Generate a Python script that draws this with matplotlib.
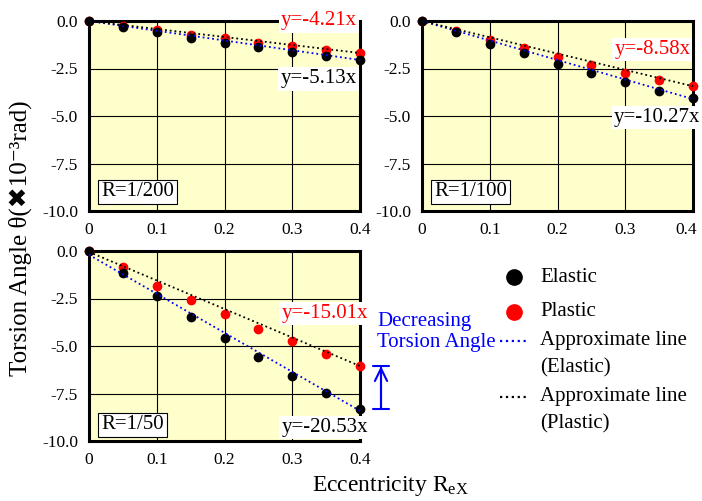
"""Torsion angle vs eccentricity for three drift ratios."""

import matplotlib
matplotlib.use("Agg")
import matplotlib.pyplot as plt
import matplotlib.transforms as mtransforms
from matplotlib.lines import Line2D

plt.rcParams["font.family"] = ["Liberation Serif", "DejaVu Sans"]
plt.rcParams["mathtext.fontset"] = "custom"
plt.rcParams["mathtext.rm"] = "Liberation Serif"
plt.rcParams["mathtext.it"] = "Liberation Serif"

# eccentricity R_eX
ecc = [0, 0.05, 0.1, 0.15, 0.2, 0.25, 0.3, 0.35, 0.4]

# torsion angle (x10^-3 rad)
elastic_200 = [0, -0.30, -0.60, -0.88, -1.14, -1.39, -1.65, -1.84, -2.07]
plastic_200 = [0, -0.26, -0.47, -0.72, -0.91, -1.14, -1.33, -1.53, -1.67]
elastic_100 = [0, -0.56, -1.19, -1.71, -2.25, -2.76, -3.23, -3.68, -4.07]
plastic_100 = [0, -0.52, -0.98, -1.41, -1.87, -2.30, -2.72, -3.10, -3.44]
elastic_50 = [0, -1.18, -2.36, -3.48, -4.57, -5.59, -6.57, -7.45, -8.30]
plastic_50 = [0, -0.83, -1.83, -2.58, -3.34, -4.13, -4.75, -5.41, -6.06]

slopes_elastic = [-5.13, -10.27, -20.53]
slopes_plastic = [-4.21, -8.58, -15.01]
intercepts_elastic = [0.0, 0.0, -0.2]
intercepts_plastic = [0.0, 0.0, -0.05]
panel_labels = ["R=1/200", "R=1/100", "R=1/50"]

x_ticks = [0, 0.1, 0.2, 0.3, 0.4]
x_tick_labels = ["0", "0.1", "0.2", "0.3", "0.4"]
y_ticks = [0, -2.5, -5, -7.5, -10]
y_tick_labels = ["0.0", "-2.5", "-5.0", "-7.5", "-10.0"]

W, H = 702, 501


def fx(px):
    return px / W


def fy(py):
    return 1 - py / H


BG = "#FFFFCC"
BLUE = "#0000FF"
RED = "#FF0000"

fig = plt.figure(figsize=(W / 100, H / 100), dpi=100)

# axes boxes in pixels: left, top, right, bottom
boxes = [(89, 21, 360, 211), (422, 21, 693, 211), (89, 251, 360, 441)]
elastic_sets = [elastic_200, elastic_100, elastic_50]
plastic_sets = [plastic_200, plastic_100, plastic_50]
eq_plastic_pos = [(0.339, 0.0), (0.340, -1.5), (0.348, -3.3)]
eq_elastic_pos = [(0.339, -3.05), (0.347, -5.1), (0.348, -9.3)]
label_y = [0.10, 0.10, 0.085]

axes = []
for i, (l, t, r, b) in enumerate(boxes):
    ax = fig.add_axes([fx(l), fy(b), (r - l) / W, (b - t) / H])
    axes.append(ax)
    ax.set_facecolor(BG)
    ax.set_xlim(0, 0.4)
    ax.set_ylim(-10, 0)
    ax.set_xticks(x_ticks)
    ax.set_xticklabels(x_tick_labels)
    ax.set_yticks(y_ticks)
    ax.set_yticklabels(y_tick_labels)
    ax.tick_params(length=0, labelsize=12.5, pad=8)
    ax.grid(True, color="black", lw=0.8)
    ax.set_axisbelow(True)
    for s in ax.spines.values():
        s.set_linewidth(2.2)
        s.set_zorder(3)

    ax.plot(ecc, plastic_sets[i], "o", color=RED, ms=6, clip_on=False, zorder=4)
    ax.plot(ecc, elastic_sets[i], "o", color="black", ms=6, clip_on=False, zorder=4)

    xs = [0, 0.4]
    ax.plot(xs, [slopes_elastic[i] * x + intercepts_elastic[i] for x in xs],
            ":", color=BLUE, lw=1.3, zorder=5, clip_on=False)
    ax.plot(xs, [slopes_plastic[i] * x + intercepts_plastic[i] for x in xs],
            ":", color="black", lw=1.3, zorder=5, clip_on=False)

    box = dict(facecolor="white", edgecolor="none", pad=1.5)
    ax.text(*eq_plastic_pos[i], f"y={slopes_plastic[i]:.2f}x", color=RED, fontsize=15,
            ha="center", va="center", bbox=box, zorder=6, clip_on=False)
    ax.text(*eq_elastic_pos[i], f"y={slopes_elastic[i]:.2f}x", color="black", fontsize=15,
            ha="center", va="center", bbox=box, zorder=6, clip_on=False)

    ax.text(0.045, label_y[i], panel_labels[i], transform=ax.transAxes, fontsize=15,
            ha="left", va="center", zorder=6,
            bbox=dict(facecolor="white", edgecolor="black", linewidth=0.8, pad=2))

# nudge the last x tick label of the right panel so it stays inside the figure
last = axes[1].get_xticklabels()[-1]
last.set_transform(last.get_transform()
                   + mtransforms.ScaledTranslation(-5 / 72, 0, fig.dpi_scale_trans))

ax3 = axes[2]
# decreasing torsion angle marker, between the elastic and plastic end points
arrow_x = 0.431
ax3.annotate("", xy=(arrow_x, plastic_50[-1]), xytext=(arrow_x, elastic_50[-1]),
             annotation_clip=False,
             arrowprops=dict(arrowstyle="|-|,widthA=0.55,widthB=0.55", color=BLUE,
                             lw=1.5, shrinkA=0, shrinkB=0, mutation_scale=10))
ax3.annotate("", xy=(arrow_x, plastic_50[-1]), xytext=(arrow_x, elastic_50[-1]),
             annotation_clip=False,
             arrowprops=dict(arrowstyle="->,head_length=0.45,head_width=0.22", color=BLUE,
                             lw=1.5, shrinkA=0, shrinkB=0, mutation_scale=20))
fig.text(fx(377), fy(332), "Decreasing\nTorsion Angle", color=BLUE, fontsize=15,
         ha="left", va="center", linespacing=1.15)

# legend
fig.add_artist(Line2D([fx(514)], [fy(277)], marker="o", color="black", ms=11, lw=0))
fig.add_artist(Line2D([fx(514)], [fy(312)], marker="o", color=RED, ms=11, lw=0))
fig.add_artist(Line2D([fx(500), fx(528)], [fy(341), fy(341)], ls=":", color=BLUE, lw=1.6))
fig.add_artist(Line2D([fx(500), fx(528)], [fy(397), fy(397)], ls=":", color="black", lw=1.6))
for py, txt in [(277, "Elastic"), (312, "Plastic"), (341, "Approximate line"),
                (368, "(Elastic)"), (397, "Approximate line"), (424, "(Plastic)")]:
    fig.text(fx(540), fy(py), txt, fontsize=15, ha="left", va="center")

fig.text(fx(20), fy(238), "Torsion Angle θ(✖10⁻³rad)", fontsize=18,
         rotation=90, ha="center", va="center")
fig.text(fx(390), fy(486), "Eccentricity R$_{\\mathregular{eX}}$", fontsize=17,
         ha="center", va="center")

fig.savefig("out.png", dpi=100)
plt.close(fig)
